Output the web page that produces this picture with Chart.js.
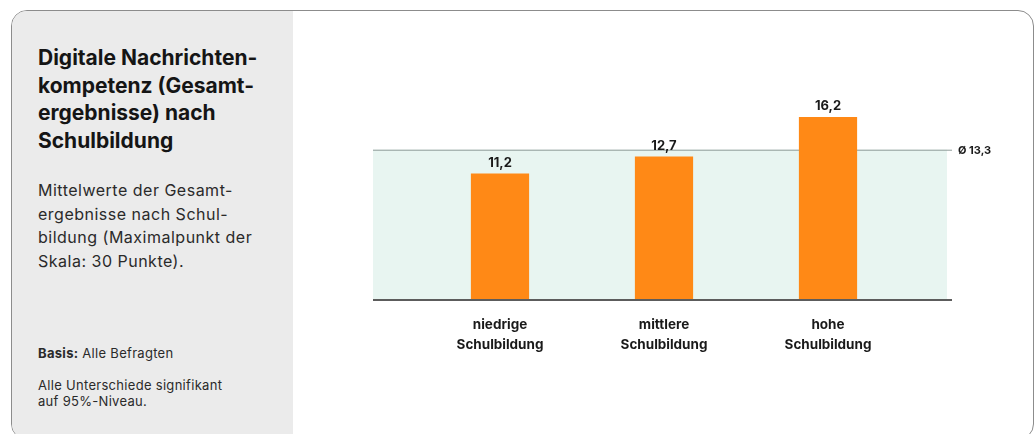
<!DOCTYPE html>
<html>
<head>
<meta charset="utf-8">
<script src="https://cdn.jsdelivr.net/npm/chart.js@4"></script>
<style>
  body { margin: 0; background: #fff; font-family: Inter, "Noto Sans", sans-serif; }
  #card { position: absolute; left: 11px; top: 10px; width: 1023px; height: 430px;
          border: 1.5px solid #8c8c8c; border-radius: 16px; overflow: hidden; box-sizing: border-box; }
  #side { position: absolute; left: 0; top: 0; width: 281px; height: 100%; background: #ebebeb; }
  .t { position: absolute; left: 26px; color: #151515; }
  #title { top: 33px; font-size: 21px; font-weight: 700; line-height: 27.5px; width: 255px; }
  #sub { top: 168px; font-size: 16px; line-height: 23.5px; letter-spacing: 0.5px; color: #2a2a2a; width: 255px; }
  #basis { top: 334px; font-size: 13px; line-height: 16px; letter-spacing: 0.3px; color: #2a2a2a; }
  #note { top: 366px; font-size: 13px; line-height: 16px; letter-spacing: 0.3px; color: #2a2a2a; }
  #wrap { position: absolute; left: 300px; top: 0; width: 735px; height: 434px; }
</style>
</head>
<body>
<div id="card">
  <div id="side">
    <div class="t" id="title">Digitale Nachrichten-<br>kompetenz (Gesamt-<br>ergebnisse) nach<br>Schulbildung</div>
    <div class="t" id="sub">Mittelwerte der Gesamt-<br>ergebnisse nach Schul-<br>bildung (Maximalpunkt der<br>Skala: 30 Punkte).</div>
    <div class="t" id="basis"><b>Basis:</b> Alle Befragten</div>
    <div class="t" id="note">Alle Unterschiede signifikant<br>auf 95%-Niveau.</div>
  </div>
</div>
<div id="wrap"><canvas id="chart"></canvas></div>
<script>
// Daten
const categories = [['niedrige', 'Schulbildung'], ['mittlere', 'Schulbildung'], ['hohe', 'Schulbildung']];
const values = [11.2, 12.7, 16.2];
const average = 13.3;

const fmt = v => v.toFixed(1).replace('.', ',');

// Durchschnittslinie + Hintergrundfläche + Grundlinie
const avgPlugin = {
    id: 'avgPlugin',
    beforeDatasetsDraw(chart) {
        const ctx = chart.ctx;
        const area = chart.chartArea;
        const y = chart.scales.y.getPixelForValue(average);
        const y0 = chart.scales.y.getPixelForValue(0);
        const left = area.left - 45;
        const right = area.right + 42;
        ctx.save();
        ctx.fillStyle = 'rgb(232,245,241)';
        ctx.fillRect(left, y, right - 5 - left, y0 - y);
        ctx.strokeStyle = '#8f9c99';
        ctx.lineWidth = 1;
        ctx.beginPath();
        ctx.moveTo(left, y + 0.5);
        ctx.lineTo(right, y + 0.5);
        ctx.stroke();
        ctx.fillStyle = '#1a1a1a';
        ctx.font = 'bold 11px Inter, sans-serif';
        ctx.textBaseline = 'middle';
        ctx.fillText('Ø ' + fmt(average), right + 6, y + 1);
        ctx.restore();
    },
    afterDatasetsDraw(chart) {
        const ctx = chart.ctx;
        const area = chart.chartArea;
        const y0 = chart.scales.y.getPixelForValue(0);
        ctx.save();
        ctx.strokeStyle = '#5c5c5c';
        ctx.lineWidth = 2;
        ctx.beginPath();
        ctx.moveTo(area.left - 45, y0);
        ctx.lineTo(area.right + 42, y0);
        ctx.stroke();
        // Werte über den Balken
        ctx.fillStyle = '#1a1a1a';
        ctx.font = 'bold 13px Inter, sans-serif';
        ctx.textAlign = 'center';
        ctx.textBaseline = 'bottom';
        chart.getDatasetMeta(0).data.forEach((bar, i) => {
            ctx.fillText(fmt(values[i]), bar.x, bar.y - 4);
        });
        ctx.restore();
    }
};

new Chart(document.getElementById('chart'), {
    type: 'bar',
    data: {
        labels: categories,
        datasets: [{
            data: values,
            backgroundColor: 'rgb(255,137,22)',
            categoryPercentage: 1,
            barPercentage: 0.355
        }]
    },
    options: {
        responsive: true,
        maintainAspectRatio: false,
        animation: false,
        layout: { padding: { left: 118, right: 125, top: 74, bottom: 0 } },
        plugins: { legend: { display: false }, tooltip: { enabled: false } },
        scales: {
            x: {
                grid: { display: false, drawTicks: false },
                border: { display: false },
                ticks: {
                    color: '#1a1a1a',
                    padding: 15,
                    font: { family: 'Inter', size: 13.5, weight: 'bold', lineHeight: 1.5 }
                },
                afterFit(axis) { axis.height = 134; }
            },
            y: {
                display: false,
                min: 0,
                max: 20
            }
        }
    },
    plugins: [avgPlugin]
});
</script>
</body>
</html>
